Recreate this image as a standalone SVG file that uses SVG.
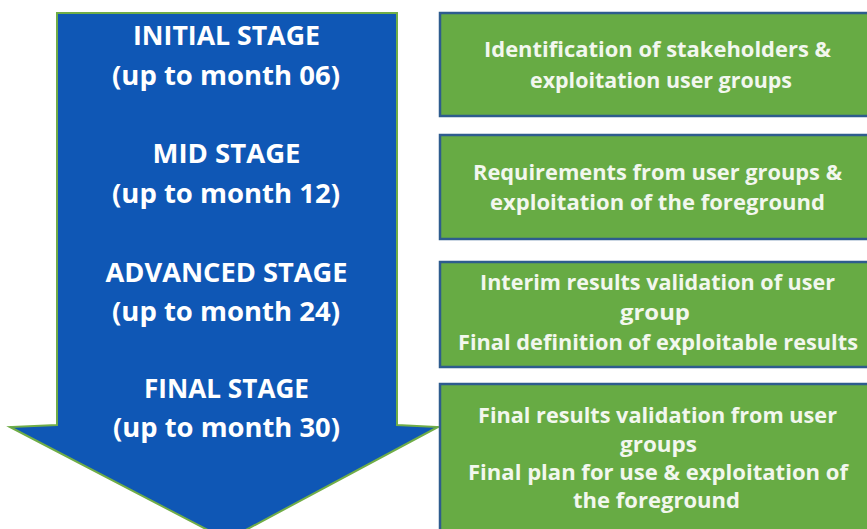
<svg xmlns="http://www.w3.org/2000/svg" width="867" height="529" viewBox="0 0 867 529">
<style>
.bg{fill:#ffffff}
.arrow{fill:#0F57B5;stroke:#70AD47;stroke-width:2}
.box{fill:#67AB44;stroke:#2E5C8E;stroke-width:2.5}
.lt{font-family:"Open Sans",Lato,"Liberation Sans",sans-serif;font-weight:bold;font-size:27.5px;fill:#ffffff;text-anchor:middle}
.rt{font-family:"Open Sans",Lato,"Liberation Sans",sans-serif;font-weight:bold;font-size:21px;fill:#F2F7EE;text-anchor:middle}
</style>
<rect class="bg" x="0" y="0" width="867" height="529"/>
<g id="timeline-arrow">
<polygon class="arrow" points="57,13 397,13 397,425 438,427 227,540 10,427 57,425"/>
<text class="lt" x="226.5" y="45" textLength="187" lengthAdjust="spacingAndGlyphs">INITIAL STAGE</text>
<text class="lt" x="226" y="85" textLength="228" lengthAdjust="spacingAndGlyphs">(up to month 06)</text>
<text class="lt" x="226.5" y="163" textLength="148" lengthAdjust="spacingAndGlyphs">MID STAGE</text>
<text class="lt" x="226" y="203" textLength="228" lengthAdjust="spacingAndGlyphs">(up to month 12)</text>
<text class="lt" x="226.5" y="282" textLength="242" lengthAdjust="spacingAndGlyphs">ADVANCED STAGE</text>
<text class="lt" x="226" y="321" textLength="228" lengthAdjust="spacingAndGlyphs">(up to month 24)</text>
<text class="lt" x="226.5" y="398" textLength="165" lengthAdjust="spacingAndGlyphs">FINAL STAGE</text>
<text class="lt" x="226.5" y="437" textLength="227" lengthAdjust="spacingAndGlyphs">(up to month 30)</text>
</g>
<g id="box-initial">
<rect class="box" x="440" y="13" width="440" height="103"/>
<text class="rt" x="657.5" y="57" textLength="347" lengthAdjust="spacingAndGlyphs">Identification of stakeholders &amp;</text>
<text class="rt" x="661" y="88" textLength="262" lengthAdjust="spacingAndGlyphs">exploitation user groups</text>
</g>
<g id="box-mid">
<rect class="box" x="440" y="135" width="440" height="104"/>
<text class="rt" x="657.5" y="180" textLength="369" lengthAdjust="spacingAndGlyphs">Requirements from user groups &amp;</text>
<text class="rt" x="657.5" y="210" textLength="335" lengthAdjust="spacingAndGlyphs">exploitation of the foreground</text>
</g>
<g id="box-advanced">
<rect class="box" x="440" y="262" width="440" height="105"/>
<text class="rt" x="657.5" y="290" textLength="355" lengthAdjust="spacingAndGlyphs">Interim results validation of user</text>
<text class="rt" x="655" y="320" textLength="70" lengthAdjust="spacingAndGlyphs">group</text>
<text class="rt" x="658" y="350" textLength="400" lengthAdjust="spacingAndGlyphs">Final definition of exploitable results</text>
</g>
<g id="box-final">
<rect class="box" x="440" y="384" width="440" height="160"/>
<text class="rt" x="657.5" y="423" textLength="359" lengthAdjust="spacingAndGlyphs">Final results validation from user</text>
<text class="rt" x="658.5" y="452" textLength="77" lengthAdjust="spacingAndGlyphs">groups</text>
<text class="rt" x="658" y="480" textLength="380" lengthAdjust="spacingAndGlyphs">Final plan for use &amp; exploitation of</text>
<text class="rt" x="656.5" y="508" textLength="167" lengthAdjust="spacingAndGlyphs">the foreground</text>
</g>
<g id="connectors"/>
</svg>
